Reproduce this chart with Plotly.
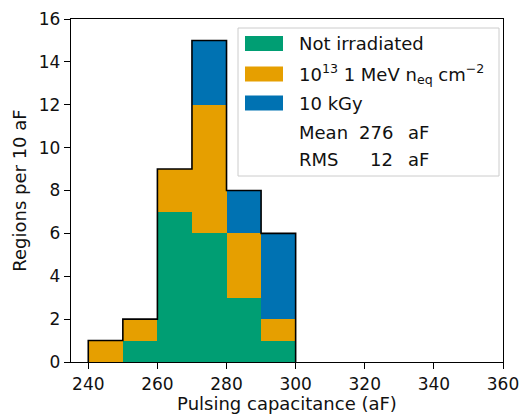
import plotly.graph_objects as go

# ---- data ----
bin_edges = [240, 250, 260, 270, 280, 290, 300]
not_irradiated = [0, 1, 7, 6, 3, 1]
neutron_1e13 = [1, 1, 2, 6, 3, 1]
gamma_10kgy = [0, 0, 0, 3, 2, 4]
series_names = ["Not irradiated", "10<sup>13</sup> 1 MeV n<sub>eq</sub> cm<sup>\u22122</sup>", "10 kGy"]
series_colors = ["#009E73", "#E69F00", "#0072B2"]
mean_val = 276
rms_val = 12
x_ticks = [240, 260, 280, 300, 320, 340, 360]
y_ticks = [0, 2, 4, 6, 8, 10, 12, 14, 16]

W, H = 528, 414
L, R, T, B = 71, 25, 19, 52
pw, ph = W - L - R, H - T - B

def px(x):
    return (x - L) / pw

def py(y):
    return (H - B - y) / ph

centers = [(bin_edges[i] + bin_edges[i + 1]) / 2 for i in range(len(bin_edges) - 1)]
widths = [bin_edges[i + 1] - bin_edges[i] for i in range(len(bin_edges) - 1)]

fig = go.Figure()
for vals, name, col in zip([not_irradiated, neutron_1e13, gamma_10kgy], series_names, series_colors):
    fig.add_trace(go.Bar(x=centers, y=vals, width=widths, name=name,
                         marker=dict(color=col, line=dict(width=0)), showlegend=False))

totals = [a + b + c for a, b, c in zip(not_irradiated, neutron_1e13, gamma_10kgy)]
sx, sy = [bin_edges[0]], [0]
for i, t in enumerate(totals):
    sx += [bin_edges[i], bin_edges[i + 1]]
    sy += [t, t]
sx.append(bin_edges[-1]); sy.append(0)
fig.add_trace(go.Scatter(x=sx, y=sy, mode="lines", line=dict(color="black", width=1.6),
                         showlegend=False, hoverinfo="skip"))

font = dict(family="DejaVu Sans", size=17, color="#111")
lfont = dict(family="DejaVu Sans", size=18, color="#111")
tfont = dict(family="DejaVu Sans", size=18, color="#111")

shapes = [dict(type="rect", xref="paper", yref="paper", x0=px(238), x1=px(499), y0=py(176), y1=py(28),
               line=dict(color="#cccccc", width=1), fillcolor="rgba(255,255,255,0.8)", layer="above")]
annotations = []
rows_y = [43.5, 74, 103, 132, 159]
for i, (name, col) in enumerate(zip(series_names, series_colors)):
    yc = rows_y[i]
    shapes.append(dict(type="rect", xref="paper", yref="paper", x0=px(245), x1=px(283),
                       y0=py(yc + 7.5), y1=py(yc - 7.5), fillcolor=col, line=dict(width=0), layer="above"))
    annotations.append(dict(x=px(297), y=py(yc), xref="paper", yref="paper", text=name, showarrow=False,
                            xanchor="left", yanchor="middle", font=lfont))
for j, (lab, val) in enumerate([("Mean", mean_val), ("RMS", rms_val)]):
    yc = rows_y[3 + j]
    annotations.append(dict(x=px(297), y=py(yc), xref="paper", yref="paper", text=lab, showarrow=False,
                            xanchor="left", yanchor="middle", font=lfont))
    annotations.append(dict(x=px(395), y=py(yc), xref="paper", yref="paper", text=str(val), showarrow=False,
                            xanchor="right", yanchor="middle", font=lfont))
    annotations.append(dict(x=px(406), y=py(yc), xref="paper", yref="paper", text="aF", showarrow=False,
                            xanchor="left", yanchor="middle", font=lfont))

fig.update_layout(
    width=W, height=H, margin=dict(l=L, r=R, t=T, b=B, pad=0, autoexpand=False),
    paper_bgcolor="white", plot_bgcolor="white", barmode="stack", bargap=0,
    font=font, shapes=shapes, annotations=annotations, showlegend=False,
    xaxis=dict(range=[235, 360], tickvals=x_ticks, ticks="outside", ticklen=6, tickwidth=1.3,
               tickcolor="black", showline=True, linecolor="black", linewidth=1.4, mirror=True,
               showgrid=False, zeroline=False, automargin=False,
               title=dict(text="Pulsing capacitance (aF)", standoff=1, font=tfont), tickfont=font),
    yaxis=dict(range=[0, 16], tickvals=y_ticks, ticks="outside", ticklen=6, tickwidth=1.3,
               tickcolor="black", showline=True, linecolor="black", linewidth=1.4, mirror=True,
               showgrid=False, zeroline=False, automargin=False,
               title=dict(text="Regions per 10 aF", standoff=7, font=tfont), tickfont=font),
)
fig.write_html("out.html", config={"displayModeBar": False},
               post_script="document.body.style.margin='0';document.body.style.overflow='hidden';")
